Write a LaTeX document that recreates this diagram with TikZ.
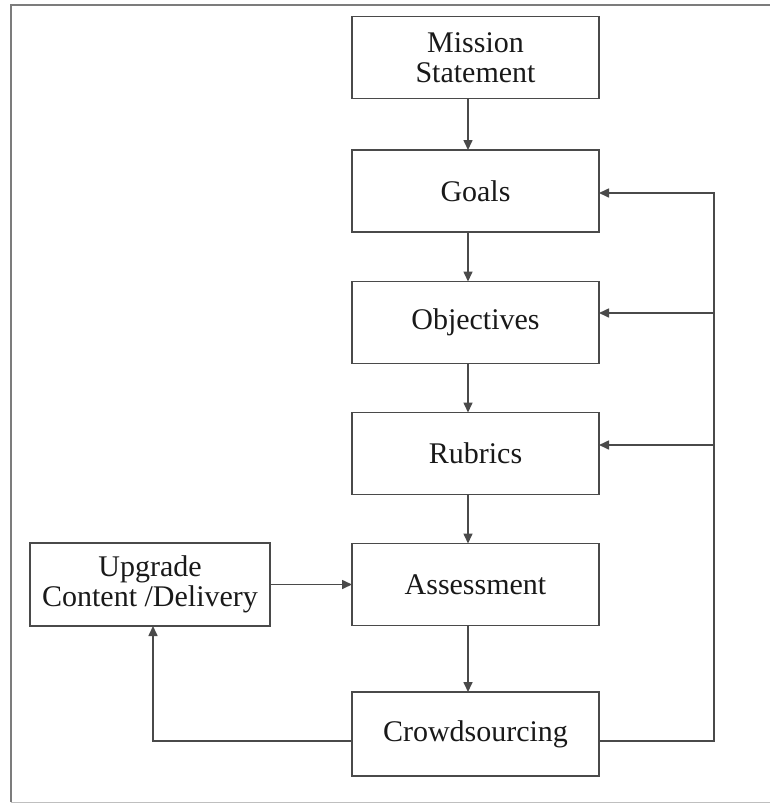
\documentclass[tikz,border=0pt]{standalone}
\usepackage{fontspec}
\setmainfont{Liberation Serif}
\usetikzlibrary{arrows.meta}

\definecolor{boxgray}{HTML}{4A4A4A}
\definecolor{framegray}{HTML}{7C7C7C}

\begin{document}
\begin{tikzpicture}[x=1pt,y=-1pt,
  every node/.style={inner sep=0pt, outer sep=0pt},
  box/.style={draw=boxgray, line width=1.6pt, minimum width=247pt, minimum height=82pt,
    align=center, text=black!90, font=\fontsize{30}{30}\selectfont},
  arr/.style={draw=boxgray, line width=1.6pt, -{Triangle[length=10pt,width=9pt]}}]
\useasboundingbox (0,0) rectangle (769,803);

% frame
\draw[framegray, line width=2.2pt] (775,5) -- (11,5) -- (11,802);
\draw[black!25, line width=1pt] (11,802) -- (775,802);

% boxes
\node[box] (ms) at (475.5,57.5) {Mission\\Statement};
\node[box] (goals) at (475.5,191) {Goals};
\node[box] (obj) at (475.5,322.5) {Objectives};
\node[box] (rub) at (475.5,453.5) {Rubrics};
\node[box] (ass) at (475.5,584.5) {Assessment};
\node[box, minimum height=84pt] (crowd) at (475.5,734) {Crowdsourcing};
\node[box, minimum width=240pt, minimum height=83pt] (upg) at (150,584.5) {Upgrade\\Content /Delivery};

\coordinate (rt) at (714,0);

% main chain
\draw[arr] ([xshift=-7.5pt]ms.south) -- ([xshift=-7.5pt]goals.north);
\draw[arr] ([xshift=-7.5pt]goals.south) -- ([xshift=-7.5pt]obj.north);
\draw[arr] ([xshift=-7.5pt]obj.south) -- ([xshift=-7.5pt]rub.north);
\draw[arr] ([xshift=-7.5pt]rub.south) -- ([xshift=-7.5pt]ass.north);
\draw[arr] ([xshift=-7.5pt]ass.south) -- ([xshift=-7.5pt]crowd.north);

% feedback
\draw[arr] (upg.east) -- (ass.west);
\draw[arr] ([yshift=-7pt]crowd.west) -| ([xshift=3pt]upg.south);
\draw[arr] ([yshift=-7pt]crowd.east) -| ([yshift=-2pt]goals.east -| rt) -- ([yshift=-2pt]goals.east);
\draw[arr] ([yshift=9.5pt]obj.east -| rt) -- ([yshift=9.5pt]obj.east);
\draw[arr] ([yshift=8.5pt]rub.east -| rt) -- ([yshift=8.5pt]rub.east);
\end{tikzpicture}
\end{document}
